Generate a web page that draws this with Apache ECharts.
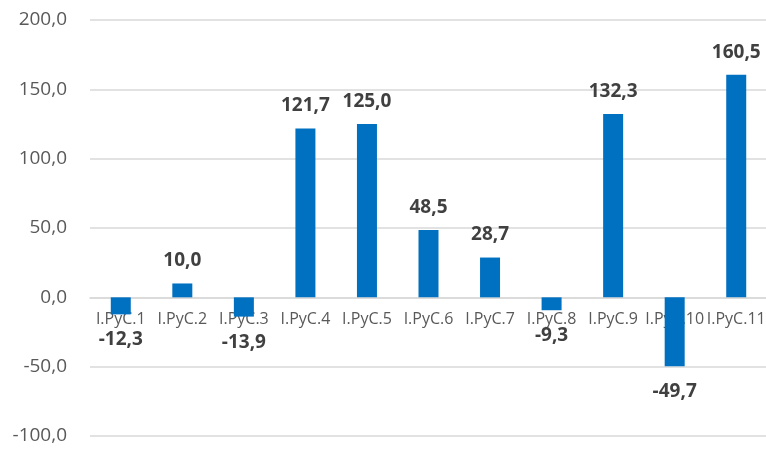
<!DOCTYPE html>
<html>
<head>
<meta charset="utf-8">
<script src="https://cdn.jsdelivr.net/npm/echarts@6/dist/echarts.min.js"></script>
<style>html,body{margin:0;padding:0;background:#fff}#c{width:766px;height:449px}</style>
</head>
<body>
<div id="c"></div>
<script>
const categories = ['I.PyC.1','I.PyC.2','I.PyC.3','I.PyC.4','I.PyC.5','I.PyC.6','I.PyC.7','I.PyC.8','I.PyC.9','I.PyC.10','I.PyC.11'];
const values = [-12.3, 10.0, -13.9, 121.7, 125.0, 48.5, 28.7, -9.3, 132.3, -49.7, 160.5];
const yTicks = { min: -100, max: 200, interval: 50 };

const fmt = v => v.toFixed(1).replace('.', ',');
const gridTop = 20, gridHeight = 416;
const zeroOffset = -gridHeight * (0 - yTicks.min) / (yTicks.max - yTicks.min);
const chart = echarts.init(document.getElementById('c'), null, {renderer: 'canvas'});
chart.setOption({
  animation: false,
  grid: { left: 90, width: 677, top: gridTop, height: gridHeight, outerBoundsMode: 'none', containLabel: false },
  xAxis: {
    type: 'category',
    data: categories,
    position: 'bottom',
    offset: zeroOffset,
    z: 0,
    axisLine: { show: true, onZero: false, lineStyle: { color: '#d9d9d9', width: 1.5 } },
    axisTick: { show: false },
    axisLabel: { interval: 0, margin: 14, color: '#595959', fontSize: 16, fontFamily: 'Open Sans', hideOverlap: false }
  },
  yAxis: {
    type: 'value',
    min: yTicks.min, max: yTicks.max, interval: yTicks.interval,
    axisLine: { show: false },
    axisTick: { show: false },
    splitLine: { lineStyle: { color: '#d9d9d9', width: 1.5 } },
    axisLabel: { margin: 23, color: '#595959', fontSize: 19, fontFamily: 'Open Sans', formatter: v => fmt(v) }
  },
  series: [{
    type: 'bar',
    barWidth: 20,
    z: 5,
    itemStyle: { color: '#0070C0' },
    data: values.map(v => ({
      value: v,
      label: {
        show: true,
        position: v >= 0 ? 'top' : 'bottom',
        distance: v >= 0 ? 13 : 16,
        formatter: p => fmt(p.value),
        color: '#404040', fontSize: 19, fontWeight: 'bold', fontFamily: 'Open Sans'
      }
    }))
  }]
});
</script>
</body>
</html>
